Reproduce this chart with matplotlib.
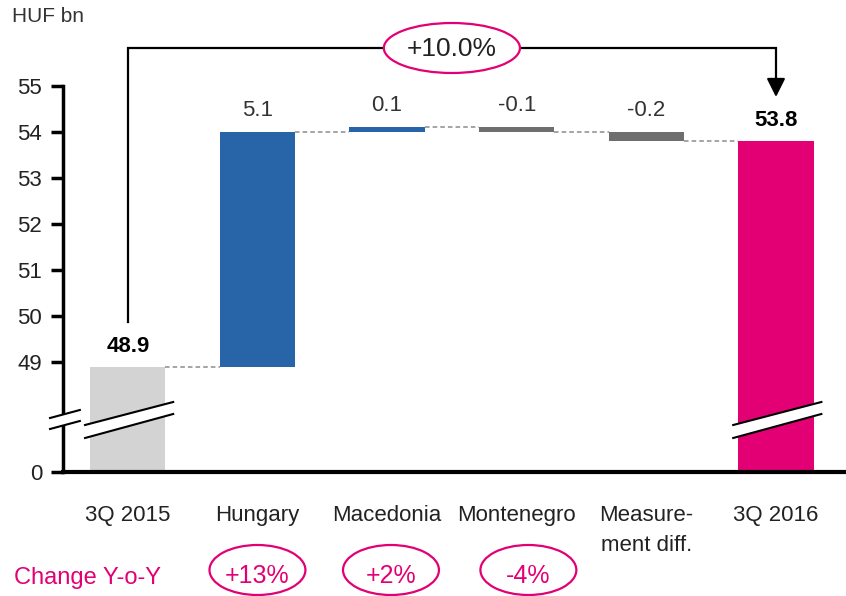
import numpy as np
import matplotlib
matplotlib.use('Agg')
import matplotlib.pyplot as plt
from matplotlib.patches import Ellipse, Polygon
from matplotlib.transforms import blended_transform_factory

plt.rcParams['font.family'] = ['Liberation Sans', 'DejaVu Sans']

# data
categories = ['3Q 2015', 'Hungary', 'Macedonia', 'Montenegro', 'Measure-\nment diff.', '3Q 2016']
start_total = 48.9
deltas = [5.1, 0.1, -0.1, -0.2]
end_total = 53.8
delta_labels = ['5.1', '0.1', '-0.1', '-0.2']
yoy_labels = ['+13%', '+2%', '-4%']
total_change = '+10.0%'
yticks = [0, 49, 50, 51, 52, 53, 54, 55]

MAGENTA = '#E20074'
BLUE = '#2864A8'
GREY = '#6E6E6E'
LIGHT = '#D3D3D3'

# broken axis: 0..48 squeezed, 48..55 linear
BREAK = 48.0
LOW = 1.391


def fwd(v):
    v = np.asarray(v, dtype=float)
    return np.where(v < BREAK, v * LOW / BREAK, LOW + v - BREAK)


def inv(u):
    u = np.asarray(u, dtype=float)
    return np.where(u < LOW, u * BREAK / LOW, u - LOW + BREAK)


fig = plt.figure(figsize=(8.46, 5.96), dpi=100)
AX_TOP, AX_BOT = 86, 472
ax = fig.add_axes([63 / 846, 1 - AX_BOT / 596, 1 - 63 / 846, (AX_BOT - AX_TOP) / 596])
ax.set_yscale('function', functions=(fwd, inv))

x = np.arange(len(categories))
w = 0.58
levels = start_total + np.cumsum([0] + deltas)   # running level after each step
bottoms = levels[:-1]
colors_d = [BLUE if d > 0 else GREY for d in deltas]

ax.bar(x[0], start_total, width=w, color=LIGHT)
ax.bar(x[1:5], deltas, bottom=bottoms, width=w, color=colors_d)
ax.bar(x[5], end_total, width=w, color=MAGENTA)

# connectors between bars
for i in range(5):
    ax.plot([x[i] + w / 2, x[i + 1] - w / 2], [levels[i], levels[i]], ls=(0, (3, 2)),
            color='#8C8C8C', lw=1.1)

# value labels
for i, d in enumerate(deltas):
    top = max(bottoms[i], bottoms[i] + d)
    ax.annotate(delta_labels[i], (x[i + 1], top), xytext=(0, 8), textcoords='offset points',
                ha='center', va='bottom', fontsize=16, color='#333333')
for xi, val in [(x[0], start_total), (x[5], end_total)]:
    ax.annotate(f'{val:.1f}', (xi, val), xytext=(0, 7), textcoords='offset points',
                ha='center', va='bottom', fontsize=16, color='black', fontweight='bold')

ax.set_xlim(-0.5, 5.54)
ax.set_ylim(0, 55)
ax.set_yticks(yticks)
ax.set_yticklabels([str(t) for t in yticks])
ax.minorticks_off()
ax.set_xticks(x)
ax.set_xticklabels(categories, fontsize=16, color='#222222', va='top', linespacing=1.55)
ax.tick_params(axis='x', length=0, pad=24)
ax.tick_params(axis='y', length=9, width=2.5, labelsize=16, labelcolor='#222222', pad=6)
for s in ['top', 'right']:
    ax.spines[s].set_visible(False)
ax.spines['left'].set_linewidth(2.5)
ax.spines['bottom'].set_linewidth(3)

# break marks (x in data, y in axes fraction)
bt = blended_transform_factory(ax.transData, ax.transAxes)


def yf(py):
    return (AX_BOT - py) / (AX_BOT - AX_TOP)


def break_mark(x0, x1, y0l, y1l, y0u, y1u):
    poly = Polygon([[x0, yf(y0l)], [x1, yf(y1l)], [x1, yf(y1u)], [x0, yf(y0u)]],
                   closed=True, facecolor='white', edgecolor='none', transform=bt,
                   clip_on=False, zorder=5)
    ax.add_patch(poly)
    ax.plot([x0, x1], [yf(y0l), yf(y1l)], color='black', lw=1.5, transform=bt, clip_on=False, zorder=6)
    ax.plot([x0, x1], [yf(y0u), yf(y1u)], color='black', lw=1.5, transform=bt, clip_on=False, zorder=6)


break_mark(x[0] - 0.33, x[0] + 0.35, 438, 414, 425, 402)
break_mark(x[5] - 0.33, x[5] + 0.35, 438, 414, 425, 402)
break_mark(-0.6, -0.37, 429, 421, 418, 410)

# bracket with arrow for total change
ytop = yf(48)
ax.plot([x[0], x[0], x[5], x[5]], [yf(322), ytop, ytop, yf(84)], color='black', lw=1.6,
        transform=bt, clip_on=False, solid_joinstyle='miter')
ax.annotate('', xy=(x[5], yf(97)), xytext=(x[5], yf(82)), xycoords=bt, textcoords=bt,
            arrowprops=dict(arrowstyle='-|>,head_length=0.8,head_width=0.4', mutation_scale=14,
                            color='black', lw=1.6, shrinkA=0, shrinkB=0), annotation_clip=False)

ft = blended_transform_factory(ax.transData, fig.transFigure)
mid = (x[0] + x[5]) / 2
ax.add_patch(Ellipse((mid, 1 - 48 / 596), 1.05, 50 / 596, transform=ft, facecolor='white',
                     edgecolor=MAGENTA, lw=1.6, clip_on=False, zorder=7))
ax.text(mid, 1 - 49 / 596, total_change, transform=ft, ha='center', va='center',
        fontsize=19, color='#222222', zorder=8)

# Y-o-Y change row
fig.text(14 / 846, 1 - 578 / 596, 'Change Y-o-Y', color=MAGENTA, fontsize=17,
         ha='left', va='center')
yoy_shift = [0.0, 0.03, 0.09]
for i, lab in enumerate(yoy_labels):
    cx = x[i + 1] + yoy_shift[i]
    ax.add_patch(Ellipse((cx, 1 - 570 / 596), 0.74, 50 / 596, transform=ft, facecolor='white',
                         edgecolor=MAGENTA, lw=1.6, clip_on=False))
    ax.text(cx, 1 - 576 / 596, lab, transform=ft, ha='center', va='center',
            fontsize=18, color=MAGENTA)

fig.text(12 / 846, 1 - 17 / 596, 'HUF bn', fontsize=15, color='#333333', ha='left', va='center')

fig.savefig('out.png', dpi=100)
